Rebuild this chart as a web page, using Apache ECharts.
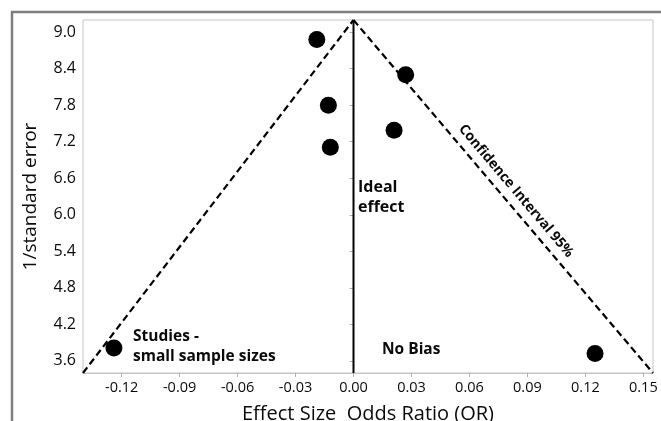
<!DOCTYPE html>
<html>
<head>
<meta charset="utf-8">
<script src="https://cdn.jsdelivr.net/npm/echarts@6/dist/echarts.min.js"></script>
<style>
html,body{margin:0;padding:0;background:#fff;}
#chart{width:661px;height:421px;}
</style>
</head>
<body>
<div id="chart"></div>
<script>
// ---- data ----
const xTicks = [-0.12, -0.09, -0.06, -0.03, 0.00, 0.03, 0.06, 0.09, 0.12, 0.15];
const yTicks = [3.6, 4.2, 4.8, 5.4, 6.0, 6.6, 7.2, 7.8, 8.4, 9.0];
const studyEffect = [-0.019, 0.027, -0.013, 0.021, -0.012, -0.124, 0.125];
const studyPrecision = [8.88, 8.30, 7.80, 7.39, 7.11, 3.81, 3.72];
const funnelApex = [0.0, 9.2];
const funnelLeftBase = [-0.14, 3.4];
const funnelRightBase = [0.155, 3.4];
const idealLine = [[0.0, 3.4], [0.0, 9.2]];
const xRange = [-0.14, 0.155];
const yRange = [3.4, 9.2];

const FONT = "'Open Sans', 'Noto Sans', sans-serif";
const chart = echarts.init(document.getElementById('chart'), null, {renderer: 'canvas'});

const points = studyEffect.map((x, i) => [x, studyPrecision[i]]);

chart.setOption({
  animation: false,
  backgroundColor: '#ffffff',
  grid: {
    left: 83, top: 20, right: 8, bottom: 48,
    containLabel: false, outerBoundsMode: 'none',
    show: true, borderColor: '#c4c4c4', borderWidth: 1, backgroundColor: '#ffffff'
  },
  xAxis: {
    type: 'value', min: xRange[0], max: xRange[1],
    name: 'Effect Size  Odds Ratio (OR)', nameLocation: 'middle', nameGap: 31,
    nameTextStyle: {fontFamily: FONT, fontSize: 20, color: '#0a0a0a'},
    axisLine: {show: true, lineStyle: {color: '#c4c4c4', width: 1}},
    axisTick: {show: true, length: 4, lineStyle: {color: '#b0b0b0'}, customValues: xTicks},
    axisLabel: {
      customValues: xTicks, margin: 7,
      fontFamily: FONT, fontSize: 14.5, color: '#0a0a0a',
      formatter: v => v.toFixed(2)
    },
    splitLine: {show: false}
  },
  yAxis: {
    type: 'value', min: yRange[0], max: yRange[1],
    name: '1/standard error', nameLocation: 'middle', nameGap: 43,
    nameTextStyle: {fontFamily: FONT, fontSize: 19, color: '#0a0a0a'},
    axisLine: {show: true, lineStyle: {color: '#c4c4c4', width: 1}},
    axisTick: {show: true, length: 4, lineStyle: {color: '#b0b0b0'}, customValues: yTicks},
    axisLabel: {
      customValues: yTicks, margin: 7,
      fontFamily: FONT, fontSize: 16, color: '#0a0a0a',
      formatter: v => v.toFixed(1)
    },
    splitLine: {show: false}
  },
  series: [
    {
      type: 'line', data: [funnelLeftBase, funnelApex], symbol: 'none',
      lineStyle: {color: '#000', width: 2.2, type: [7, 4]}, z: 3
    },
    {
      type: 'line', data: [funnelApex, funnelRightBase], symbol: 'none',
      lineStyle: {color: '#000', width: 2.2, type: [7, 4]}, z: 3
    },
    {
      type: 'line', data: idealLine, symbol: 'none',
      lineStyle: {color: '#000', width: 2}, z: 3
    },
    {
      type: 'scatter', data: points, symbol: 'circle', symbolSize: 17,
      itemStyle: {color: '#000', opacity: 1}, z: 5
    }
  ],
  graphic: [
    {
      type: 'rect', silent: true, z: 100,
      shape: {x: 12, y: 12, width: 720, height: 520},
      style: {fill: null, stroke: '#7f7f7f', lineWidth: 2.5}
    },
    {
      type: 'text', x: 358, y: 197, z: 50,
      style: {text: 'Ideal\neffect', fontFamily: FONT, fontWeight: 'bold', fontSize: 16,
        fill: '#0a0a0a', verticalAlign: 'middle', lineHeight: 20}
    },
    {
      type: 'text', x: 133, y: 347, z: 50,
      style: {text: 'Studies -\nsmall sample sizes', fontFamily: FONT, fontWeight: 'bold', fontSize: 15.5,
        fill: '#0a0a0a', verticalAlign: 'middle', lineHeight: 20}
    },
    {
      type: 'text', x: 382, y: 350, z: 50,
      style: {text: 'No Bias', fontFamily: FONT, fontWeight: 'bold', fontSize: 15.5,
        fill: '#0a0a0a', verticalAlign: 'middle'}
    },
    {
      type: 'text', x: 516, y: 191, rotation: -0.867, z: 50,
      style: {text: 'Confidence Interval 95%', fontFamily: FONT, fontWeight: 'bold', fontSize: 14,
        fill: '#0a0a0a', align: 'center', verticalAlign: 'middle'}
    }
  ]
});
</script>
</body>
</html>
